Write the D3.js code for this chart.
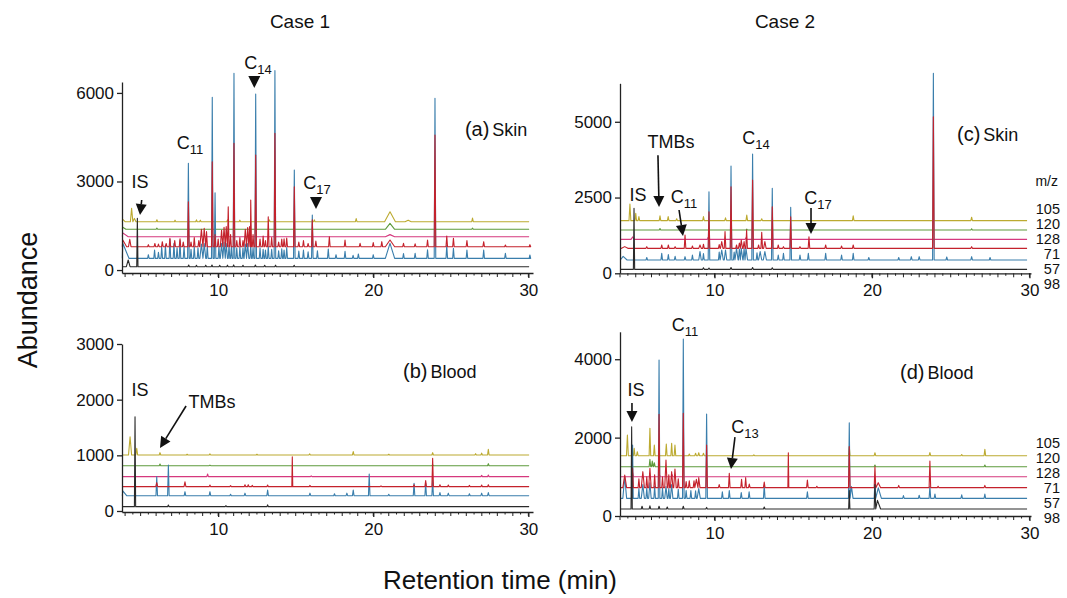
<!DOCTYPE html>
<html>
<head>
<meta charset="utf-8">
<script src="https://cdn.jsdelivr.net/npm/d3@7"></script>
<style>
  body { margin: 0; background: #fff; }
  svg { display: block; }
  text { font-family: "Liberation Sans", Arial, Helvetica, sans-serif; fill: #111; }
</style>
</head>
<body>
<div id="chart"></div>
<script>
// m/z channels, listed top trace to bottom trace
const channels = ["105", "120", "128", "71", "57", "98"];

// baselines (abundance units) per channel, same order as channels
const case1SkinBase  = [1638, 1380, 1130, 791, 397, 114];
const case1BloodBase = [1006, 814, 617, 437, 275, 78];
const case2SkinBase  = [1737, 1429, 1121, 824, 439, 131];
const case2BloodBase = [1539, 1258, 1003, 723, 451, 179];

// peaks: [retention time (min), apex abundance, half width (min, optional)]
// ---- Case 1, skin
const case1Skin105 = [[3.85, 1720, 0.15], [4.42, 2090, 0.08], [4.6, 1750, 0.1], [6.05, 1705], [7.22, 1690], [8.6, 1700], [8.85, 1690],
  [10.6, 1700], [11.4, 1690], [13.3, 1700], [16.2, 1700], [18.9, 1745], [21.08, 1975, 0.35], [22.25, 1690, 0.2], [26.4, 1760]];
const case1Skin120 = [[3.85, 1450, 0.2], [6.05, 1420], [21.08, 1583, 0.3], [26.4, 1420]];
const case1Skin128 = [[3.85, 1260, 0.35], [8.1, 1160], [21.08, 1200, 0.3]];
const case1Skin71 = [[3.85, 1020, 0.25], [4.3, 1040, 0.08], [5.5, 860], [5.92, 900], [6.15, 880], [6.4, 960], [6.65, 900], [6.89, 1075],
  [7.2, 1000], [7.54, 1060], [7.75, 950], [8.08, 2316], [8.25, 950], [8.46, 1100], [8.75, 1000], [8.92, 1380, 0.1], [9.1, 1410, 0.1],
  [9.25, 1300, 0.06], [9.62, 3670], [9.8, 1200], [10.0, 1050], [10.22, 1350, 0.08], [10.38, 1450, 0.08], [10.52, 1470, 0.08],
  [10.65, 2146], [10.8, 1200], [11.02, 4293], [11.2, 1000], [11.4, 1100], [11.6, 1000], [11.75, 1380, 0.08], [11.9, 1440, 0.08],
  [12.02, 1470, 0.06], [12.1, 2373], [12.25, 1200], [12.42, 3897], [12.7, 1050], [12.9, 1150], [13.05, 1000], [13.23, 1807],
  [13.45, 1100], [13.66, 4632], [13.9, 950], [14.1, 1050], [14.25, 1060], [14.42, 1080], [14.91, 2824], [15.2, 950], [15.5, 1000],
  [15.8, 900], [16.07, 1700], [16.3, 980], [17.17, 1130], [18.18, 1018], [19.15, 905], [20.0, 930], [20.55, 961],
  [21.08, 1018, 0.3], [21.95, 905], [22.7, 890], [23.5, 1018], [23.98, 4575], [24.74, 1150], [25.17, 1074], [26.04, 1000],
  [27.12, 960], [28.52, 849], [30.1, 860]];
const case1Skin57 = [[3.85, 905, 0.4], [5.5, 520], [5.9, 680], [6.15, 600], [6.36, 800], [6.6, 850], [6.89, 1040], [7.15, 900],
  [7.35, 750], [7.54, 1000], [7.8, 800], [8.08, 3616], [8.25, 700], [8.46, 800], [8.7, 750], [8.92, 880, 0.1], [9.1, 900, 0.1],
  [9.3, 820], [9.62, 5852], [9.8, 2620], [10.05, 800], [10.22, 900, 0.08], [10.38, 950, 0.08], [10.52, 900, 0.08], [10.7, 850],
  [10.85, 780], [11.02, 6665], [11.2, 750], [11.4, 780], [11.6, 750], [11.75, 880, 0.08], [11.9, 900, 0.08], [12.1, 850],
  [12.25, 760], [12.42, 5962], [12.7, 750], [12.9, 700], [13.05, 680], [13.23, 800], [13.45, 700], [13.66, 6754], [13.9, 650],
  [14.1, 720], [14.25, 680], [14.42, 760], [14.91, 3389], [15.2, 640], [15.5, 680], [15.8, 620], [16.07, 1865], [16.4, 650],
  [17.1, 715], [17.6, 520], [18.18, 635], [18.7, 500], [19.04, 545], [20.0, 520], [21.08, 905, 0.3], [21.95, 560], [22.7, 566],
  [23.5, 690], [23.98, 5817], [24.74, 830], [25.17, 736], [26.04, 679], [27.12, 679], [28.52, 566], [30.1, 510]];
const case1Skin98 = [[4.2, 340, 0.12], [4.79, 1752, 0.04], [8.1, 170], [8.6, 160], [9.2, 165], [9.6, 170], [10.1, 160], [10.6, 165],
  [11.0, 175], [11.6, 160], [12.4, 170], [13.0, 160], [13.7, 165], [14.9, 160]];

// ---- Case 1, blood
const case1Blood105 = [[4.32, 1335, 0.1], [4.75, 1126, 0.06], [6.25, 1048], [8.0, 1020], [9.47, 1025], [12.5, 1020], [15.9, 1025],
  [18.71, 1066], [21.0, 1020], [23.83, 1048], [26.6, 1030], [26.99, 1040], [27.42, 1110]];
const case1Blood120 = [[6.25, 844], [9.47, 825], [23.83, 830], [27.42, 850]];
const case1Blood128 = [[9.32, 665], [16.0, 630], [26.99, 640], [27.42, 645]];
const case1Blood71 = [[6.04, 509, 0.06], [7.86, 523, 0.06], [9.47, 467], [10.8, 455], [11.73, 470], [11.94, 470], [12.2, 460],
  [13.19, 467], [14.78, 975, 0.03], [15.92, 460], [20.5, 450], [22.63, 470], [23.38, 545], [23.83, 946], [24.3, 470], [24.84, 465],
  [26.2, 460], [26.99, 465], [27.42, 470]];
const case1Blood57 = [[3.85, 360, 0.25], [6.04, 617, 0.05], [6.79, 826], [7.86, 347], [9.47, 347], [10.8, 300], [11.73, 320],
  [13.19, 377], [15.92, 320], [17.5, 310], [18.3, 320], [18.71, 377], [19.74, 665], [21.0, 300], [22.63, 497], [23.38, 500],
  [23.83, 557], [24.3, 330], [24.84, 320], [26.2, 310], [26.99, 320], [27.42, 330]];
const case1Blood98 = [[4.64, 1694, 0.04], [6.79, 108], [10.5, 95], [13.19, 110]];

// ---- Case 2, skin
const case2Skin105 = [[4.63, 2287, 0.06], [5.0, 1979, 0.05], [5.2, 1869, 0.05], [6.54, 1900], [7.06, 1869], [7.6, 1800], [9.3, 1869],
  [10.7, 1830], [12.05, 1924], [13.0, 1800], [18.81, 1900], [26.33, 1850]];
const case2Skin120 = [[6.54, 1480], [12.05, 1460], [26.33, 1470]];
const case2Skin128 = [[4.8, 1200, 0.1], [9.6, 1190], [12.0, 1170]];
const case2Skin71 = [[4.3, 880, 0.2], [5.7, 880], [6.65, 934], [7.07, 934], [7.5, 880], [8.13, 1264], [8.6, 900], [9.08, 934, 0.08],
  [9.3, 960], [9.65, 2033], [10.3, 950], [10.46, 1044, 0.08], [10.67, 1380], [11.05, 2858], [11.4, 934], [11.58, 1000, 0.06],
  [11.7, 1100, 0.08], [11.88, 1050, 0.06], [12.04, 1430], [12.42, 3080], [12.8, 934], [13.0, 1350], [13.2, 1044, 0.08],
  [13.67, 2198], [14.05, 934], [14.38, 879], [14.84, 1868], [15.43, 880], [16.0, 1208], [17.06, 934], [18.07, 900], [18.81, 934],
  [23.9, 5168], [26.33, 880]];
const case2Skin57 = [[4.2, 560, 0.25], [5.7, 520], [6.65, 659], [7.07, 620], [7.5, 560], [8.13, 549], [8.6, 600], [9.08, 714, 0.08],
  [9.3, 650], [9.65, 2693], [10.3, 700], [10.46, 769, 0.1], [10.7, 769, 0.08], [11.05, 3541], [11.25, 700], [11.4, 824, 0.1],
  [11.58, 800, 0.06], [11.7, 824, 0.1], [11.88, 820, 0.06], [12.0, 824, 0.1], [12.42, 3937], [12.7, 680], [12.9, 714, 0.1],
  [13.2, 714, 0.1], [13.67, 2805], [14.05, 604], [14.38, 659], [14.84, 2178], [15.43, 604], [15.96, 659], [17.06, 659],
  [18.07, 604], [18.81, 659], [19.8, 520], [21.7, 520], [22.5, 549], [23.0, 549], [23.9, 6600], [24.75, 540], [26.33, 549],
  [27.5, 520]];
const case2Skin98 = [[4.89, 2145, 0.04], [9.3, 180], [9.65, 175], [11.05, 190], [12.42, 190], [13.67, 180]];

// ---- Case 2, blood
const case2Blood105 = [[4.47, 2066, 0.06], [4.9, 1726, 0.05], [5.1, 1640], [5.9, 2236, 0.05], [6.18, 1811, 0.05], [6.94, 1837, 0.05],
  [7.28, 1854, 0.05], [7.49, 1811, 0.05], [8.4, 1580], [8.8, 1600], [9.0, 1615], [9.3, 1600], [12.5, 1560], [18.56, 1769],
  [20.19, 1615], [23.68, 1620], [25.7, 1570], [27.17, 1701]];
const case2Blood120 = [[5.9, 1445], [6.05, 1400], [6.18, 1360], [20.19, 1300], [27.17, 1300]];
const case2Blood128 = [[4.8, 1100], [6.5, 1060], [7.3, 1060]];
const case2Blood71 = [[4.3, 1046, 0.12], [4.8, 1216, 0.05], [5.2, 950], [5.45, 1131, 0.1], [5.7, 1000], [5.9, 1216, 0.08],
  [6.2, 1050], [6.48, 2594], [6.7, 1000], [6.92, 1429, 0.08], [7.1, 1050], [7.28, 1131, 0.08], [7.49, 1200, 0.08], [7.7, 950],
  [8.02, 2619], [8.2, 880], [8.4, 900], [8.7, 900], [8.85, 935, 0.1], [9.0, 978, 0.08], [9.5, 1811], [10.3, 800], [10.94, 1088],
  [11.72, 935], [11.98, 978], [12.21, 816], [13.16, 867], [14.69, 1615, 0.03], [15.9, 918], [16.5, 760], [18.56, 1769],
  [20.19, 1258], [20.4, 850, 0.15], [21.7, 780], [23.68, 1403], [24.2, 760], [27.17, 780]];
const case2Blood57 = [[4.3, 1000, 0.12], [4.8, 1811, 0.04], [5.2, 700], [5.45, 800, 0.1], [5.7, 720], [5.9, 850, 0.08], [6.2, 760],
  [6.48, 3980], [6.7, 720], [6.92, 750, 0.08], [7.1, 700], [7.28, 800, 0.08], [7.7, 680], [8.02, 4515], [8.2, 650], [8.5, 650],
  [8.8, 640], [9.0, 700, 0.1], [9.5, 2602], [10.5, 620], [10.94, 650], [11.7, 600], [12.2, 620], [13.16, 790], [15.9, 620],
  [18.56, 2381], [18.7, 750, 0.1], [20.19, 900], [20.4, 720, 0.2], [22.0, 520], [23.0, 530], [23.68, 750], [24.0, 560],
  [25.7, 540], [27.17, 560]];
const case2Blood98 = [[4.74, 2279, 0.04], [5.4, 250], [5.9, 260], [6.48, 250], [7.0, 230], [8.02, 250], [9.5, 220], [13.16, 230],
  [18.56, 650, 0.04], [20.19, 800, 0.05], [20.35, 400, 0.2]];

const xTicks = [10, 20, 30];

// ---------------------------------------------------------------
const colors = { "105": "#bcaa30", "120": "#5e9a3c", "128": "#d5397e", "71": "#c4222c", "57": "#3a7eac", "98": "#2a2a2a" };
const drawOrder = ["105", "120", "128", "57", "71", "98"];

const svg = d3.select("#chart").append("svg").attr("width", 1067).attr("height", 598);

const panels = [
  { key: "a", sample: "Skin", base: case1SkinBase, peaks: [case1Skin105, case1Skin120, case1Skin128, case1Skin71, case1Skin57, case1Skin98],
    xr: [122, 533], xd: [3.8, 30.3], yr: [273, 82], yd: [-100, 6370], yTicks: [0, 3000, 6000] },
  { key: "b", sample: "Blood", base: case1BloodBase, peaks: [case1Blood105, case1Blood120, case1Blood128, case1Blood71, case1Blood57, case1Blood98],
    xr: [122, 533], xd: [3.8, 30.3], yr: [512, 344], yd: [-18, 3000], yTicks: [0, 1000, 2000, 3000] },
  { key: "c", sample: "Skin", base: case2SkinBase, peaks: [case2Skin105, case2Skin120, case2Skin128, case2Skin71, case2Skin57, case2Skin98],
    xr: [620, 1031], xd: [4.0, 30.1], yr: [273.3, 83.3], yd: [0, 6270], yTicks: [0, 2500, 5000] },
  { key: "d", sample: "Blood", base: case2BloodBase, peaks: [case2Blood105, case2Blood120, case2Blood128, case2Blood71, case2Blood57, case2Blood98],
    xr: [620, 1031], xd: [4.0, 30.1], yr: [516, 331.8], yd: [0, 4700], yTicks: [0, 2000, 4000] }
];

// turn a peak list into a polyline along the baseline
function tracePoints(base, peaks, t0, t1) {
  const pts = [[t0, base]];
  let last = t0;
  peaks.slice().sort((a, b) => a[0] - b[0]).forEach(p => {
    const w = p[2] || 0.05;
    const l = Math.max(p[0] - w, last);
    pts.push([l, base], [p[0], p[1]], [p[0] + w, base]);
    last = p[0] + w;
  });
  pts.push([t1, base]);
  return pts;
}

function chemLabel(g, x, y, main, sub) {
  const t = g.append("text").attr("x", x).attr("y", y).attr("text-anchor", "middle").style("font-size", "18px");
  t.append("tspan").text(main);
  if (sub) t.append("tspan").attr("dy", 5).style("font-size", "13px").text(sub);
}

function triDown(g, x, yTip) {
  g.append("path").attr("d", `M${x - 6},${yTip - 12}L${x + 6},${yTip - 12}L${x},${yTip}Z`).attr("fill", "#111");
}

function arrow(g, x1, y1, x2, y2) {
  const hl = 11, hw = 11;
  const dx = x2 - x1, dy = y2 - y1, L = Math.hypot(dx, dy), ux = dx / L, uy = dy / L;
  const bx = x2 - ux * hl, by = y2 - uy * hl;
  g.append("line").attr("x1", x1).attr("y1", y1).attr("x2", bx).attr("y2", by)
    .attr("stroke", "#111").attr("stroke-width", 1.6);
  g.append("path")
    .attr("d", `M${x2},${y2}L${bx - uy * hw / 2},${by + ux * hw / 2}L${bx + uy * hw / 2},${by - ux * hw / 2}Z`)
    .attr("fill", "#111");
}

panels.forEach(p => {
  const x = d3.scaleLinear().domain(p.xd).range(p.xr);
  const y = d3.scaleLinear().domain(p.yd).range(p.yr);
  p.x = x; p.y = y;
  const g = svg.append("g");

  const line = d3.line().x(d => x(d[0])).y(d => y(d[1]));
  drawOrder.forEach(ch => {
    const i = channels.indexOf(ch);
    g.append("path")
      .datum(tracePoints(p.base[i], p.peaks[i], p.xd[0] + 0.02, p.xd[1] - 0.25))
      .attr("d", line)
      .attr("fill", "none")
      .attr("stroke", colors[ch])
      .attr("stroke-width", 1.1)
      .attr("stroke-linejoin", "round");
  });

  // y axis
  const ya = g.append("g").attr("transform", `translate(${p.xr[0]},0)`)
    .call(d3.axisLeft(y).tickValues(p.yTicks).tickFormat(d3.format("d")).tickSize(5).tickSizeOuter(0).tickPadding(3));
  // x axis
  const xa = g.append("g").attr("transform", `translate(0,${p.yr[0]})`)
    .call(d3.axisBottom(x).tickValues(xTicks).tickSize(5).tickSizeOuter(0).tickPadding(6));
  g.append("g").selectAll("line")
    .data(d3.range(4, 30.01, 0.5))
    .join("line")
    .attr("x1", d => x(d)).attr("x2", d => x(d))
    .attr("y1", p.yr[0]).attr("y2", d => p.yr[0] + (d % 1 === 0 ? 4 : 2.5))
    .attr("stroke", "#222").attr("stroke-width", 1);
  [ya, xa].forEach(a => {
    a.selectAll("path, line").attr("stroke", "#222").attr("stroke-width", 1.3);
    a.selectAll("text").style("font-size", "17px").style("font-family", null).attr("fill", "#111");
  });

  p.g = g;
});

const [pa, pb, pc, pd] = panels;

// panel titles
function panelTitle(p, t, v) {
  const txt = p.g.append("text").attr("x", p.x(t)).attr("y", p.y(v));
  txt.append("tspan").style("font-size", "20px").text("(" + p.key + ")");
  txt.append("tspan").attr("dx", 3).style("font-size", "18px").text(p.sample);
}
panelTitle(pa, 25.91, 4541);
panelTitle(pb, 21.92, 2389);
panelTitle(pc, 25.4, 4363);
panelTitle(pd, 21.78, 3495);

// annotations, Case 1 skin
chemLabel(pa.g, pa.x(8.18), pa.y(4100), "C", "11");
chemLabel(pa.g, pa.x(12.57), pa.y(6810), "C", "14");
triDown(pa.g, pa.x(12.33), pa.y(6170));
chemLabel(pa.g, pa.x(4.96), pa.y(2780), "IS");
arrow(pa.g, pa.x(5.07), pa.y(2373), pa.x(4.96), pa.y(1865));
chemLabel(pa.g, pa.x(16.37), pa.y(2745), "C", "17");
triDown(pa.g, pa.x(16.31), pa.y(2070));

// Case 1 blood
chemLabel(pb.g, pb.x(4.96), pb.y(2066), "IS");
chemLabel(pb.g, pb.x(9.6), pb.y(1850), "TMBs");
arrow(pb.g, pb.x(7.93), pb.y(1886), pb.x(6.25), pb.y(1132));

// Case 2 skin
chemLabel(pc.g, pc.x(5.14), pc.y(2386), "IS");
chemLabel(pc.g, pc.x(7.24), pc.y(4135), "TMBs");
arrow(pc.g, pc.x(6.41), pc.y(3898), pc.x(6.48), pc.y(2188));
chemLabel(pc.g, pc.x(8.06), pc.y(2320), "C", "11");
arrow(pc.g, pc.x(7.75), pc.y(2089), pc.x(8.0), pc.y(1230));
chemLabel(pc.g, pc.x(12.63), pc.y(4267), "C", "14");
chemLabel(pc.g, pc.x(16.57), pc.y(2287), "C", "17");
arrow(pc.g, pc.x(16.13), pc.y(2155), pc.x(16.13), pc.y(1297));

// Case 2 blood
chemLabel(pd.g, pd.x(8.13), pd.y(4719), "C", "11");
chemLabel(pd.g, pd.x(5.02), pd.y(3061), "IS");
arrow(pd.g, pd.x(4.76), pd.y(2883), pd.x(4.76), pd.y(2398));
chemLabel(pd.g, pd.x(11.94), pd.y(2117), "C", "13");
arrow(pd.g, pd.x(11.3), pd.y(2015), pd.x(11.05), pd.y(1199));

// m/z legends at right of case 2 panels
svg.append("text").attr("x", 1058).attr("y", 186).attr("text-anchor", "end").style("font-size", "14px").text("m/z");
[[pc, 214], [pd, 448]].forEach(([p, top]) => {
  svg.append("g").selectAll("text").data(channels).join("text")
    .attr("x", 1060).attr("y", (d, i) => top + i * 15)
    .attr("text-anchor", "end").style("font-size", "14.5px").text(d => d);
});

// case headers and axis titles
svg.append("text").attr("x", 300).attr("y", 28).attr("text-anchor", "middle").style("font-size", "19px").text("Case 1");
svg.append("text").attr("x", 785).attr("y", 28).attr("text-anchor", "middle").style("font-size", "19px").text("Case 2");
svg.append("text").attr("transform", "translate(37,300) rotate(-90)").attr("text-anchor", "middle")
  .style("font-size", "27px").text("Abundance");
svg.append("text").attr("x", 500).attr("y", 589).attr("text-anchor", "middle").style("font-size", "26px").text("Retention time (min)");
</script>
</body>
</html>
